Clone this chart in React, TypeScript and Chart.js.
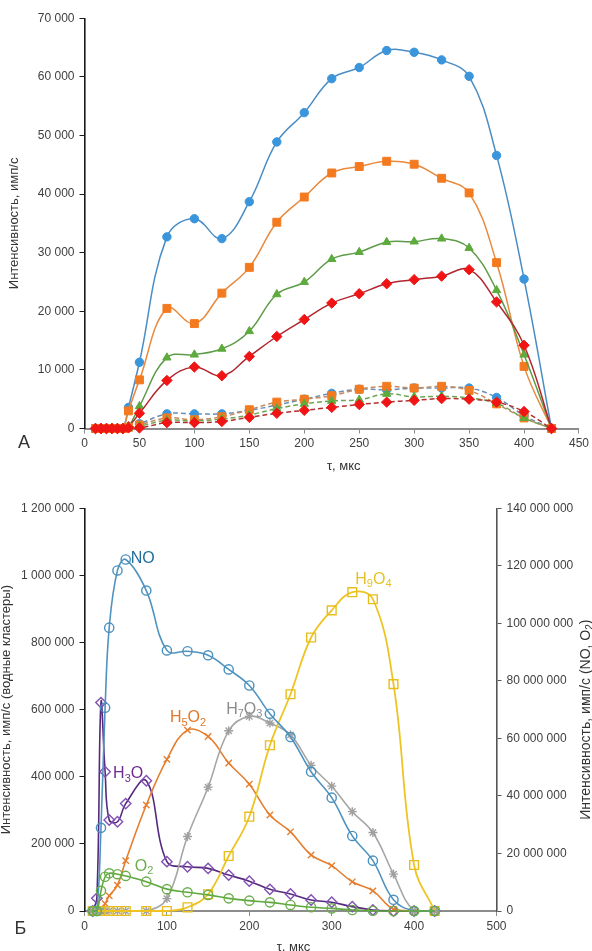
import React, { useEffect, useRef } from "react";
import { Chart, registerables } from "chart.js";

Chart.register(...registerables);

const FONT = '"Liberation Sans", Arial, Helvetica, sans-serif';
const TICK_COLOR = "#404040";
const TITLE_COLOR = "#333333";

// ---------------- Panel А ----------------
const tauA = [10, 15, 20, 25, 30, 35, 40, 50, 75, 100, 125, 150, 175, 200, 225, 250, 275, 300, 325, 350, 375, 400, 425];
const solidBlue = [0, 0, 0, 0, 0, 0, 3600, 11300, 32700, 35800, 32400, 38700, 48900, 53900, 59700, 61600, 64500, 64200, 62900, 60100, 46600, 25500, 0];
const solidOrange = [0, 0, 0, 0, 0, 0, 3000, 8300, 20500, 17900, 23100, 27500, 35200, 39500, 43600, 44700, 45600, 45100, 42700, 40200, 28300, 10600, 0];
const solidGreen = [0, 0, 0, 0, 0, 0, 300, 3800, 12100, 12600, 13600, 16600, 22900, 25000, 28900, 30100, 31800, 31900, 32400, 30800, 23600, 12600, 0];
const solidRed = [0, 0, 0, 0, 0, 0, 300, 2600, 8200, 10500, 9000, 12300, 15700, 18600, 21400, 23000, 24700, 25400, 26000, 27100, 21600, 14200, 0];
const dashedBlue = [0, 0, 0, 0, 0, 0, 200, 800, 2500, 2500, 2500, 3100, 4000, 5000, 6000, 6700, 6600, 6900, 6900, 6900, 5300, 2200, 0];
const dashedOrange = [0, 0, 0, 0, 0, 0, 200, 600, 1800, 1500, 2000, 3200, 4500, 5000, 5600, 6700, 7200, 6900, 7200, 6500, 4200, 1800, 0];
const dashedGreen = [0, 0, 0, 0, 0, 0, 100, 400, 1400, 1300, 1600, 2300, 3400, 4200, 4700, 4900, 5900, 5400, 5500, 5200, 4300, 1800, 0];
const dashedRed = [0, 0, 0, 0, 0, 0, 100, 100, 1000, 1000, 1200, 1900, 2600, 3100, 3600, 4100, 4500, 4800, 5100, 5000, 4500, 2900, 0];
const xAxisA = { min: 0, max: 450, step: 50 };
const yAxisA = { min: 0, max: 70000, step: 10000 };

// ---------------- Panel Б ----------------
const tauB = [10, 15, 20, 25, 30, 40, 50, 75, 100, 125, 150, 175, 200, 225, 250, 275, 300, 325, 350, 375, 400, 425];
const seriesNO = [0, 0, 28900000, 70700000, 98500000, 118400000, 122200000, 111400000, 90600000, 90300000, 88900000, 84000000, 78400000, 68600000, 60500000, 48400000, 39400000, 26100000, 17500000, 3900000, 0, 0];
const seriesO2 = [0, 0, 7000000, 11900000, 13100000, 12800000, 12200000, 10200000, 7600000, 6500000, 5600000, 4400000, 3600000, 3000000, 2100000, 1300000, 900000, 350000, 100000, 0, 0, 0];
const seriesH3O = [0, 38000, 621000, 415000, 271000, 266000, 320000, 388000, 147000, 132000, 127000, 107000, 89000, 64500, 50600, 32700, 26000, 13000, 3000, 0, 0, 0];
const seriesH5O2 = [0, 0, 0, 22000, 45000, 77000, 150000, 316000, 452000, 539000, 520000, 441000, 378000, 286000, 236000, 167000, 135000, 87000, 60000, 5000, 0, 0];
const seriesH7O3 = [0, 0, 0, 0, 0, 0, 0, 0, 37000, 222000, 369000, 537000, 580000, 560000, 525000, 434000, 372000, 296000, 234000, 110000, 0, 0];
const seriesH9O4 = [0, 0, 0, 0, 0, 0, 0, 0, 0, 11000, 50000, 164000, 281000, 494000, 646000, 815000, 896000, 950000, 929000, 676000, 137000, 0];
const xAxisB = { min: 0, max: 500, step: 100 };
const yAxisB = { min: 0, max: 1200000, step: 200000 };
const y1AxisB = { min: 0, max: 140000000, step: 20000000 };

const fmt = (v: number | string) =>
  String(Math.round(Number(v))).replace(/\B(?=(\d{3})+(?!\d))/g, " ");

type Part = [string, boolean];

function drawRich(
  ctx: CanvasRenderingContext2D,
  parts: Part[],
  x: number,
  y: number,
  size: number,
  color: string,
  align: "left" | "center"
) {
  const big = `${size}px ${FONT}`;
  const small = `${Math.round(size * 0.68)}px ${FONT}`;
  let w = 0;
  for (const [t, s] of parts) {
    ctx.font = s ? small : big;
    w += ctx.measureText(t).width;
  }
  let cx = align === "center" ? x - w / 2 : x;
  const base = y + size * 0.36;
  ctx.fillStyle = color;
  ctx.textAlign = "left";
  ctx.textBaseline = "alphabetic";
  for (const [t, s] of parts) {
    ctx.font = s ? small : big;
    ctx.fillText(t, cx, s ? base + size * 0.2 : base);
    cx += ctx.measureText(t).width;
  }
}

const pts = (xs: number[], ys: number[]) => xs.map((x, i) => ({ x, y: ys[i] }));

function axisX(r: { min: number; max: number; step: number }, height: number) {
  return {
    type: "linear" as const,
    min: r.min,
    max: r.max,
    afterFit: (s: any) => {
      s.height = height;
    },
    ticks: {
      stepSize: r.step,
      autoSkip: false,
      maxRotation: 0,
      padding: 3,
      color: TICK_COLOR,
      font: { family: FONT, size: 12 },
    },
    grid: { drawOnChartArea: false, drawTicks: true, tickLength: 5, color: "#8c8c8c", lineWidth: 1 },
    border: { display: true, color: "#8c8c8c", width: 2 },
  };
}

function axisY(
  r: { min: number; max: number; step: number },
  position: "left" | "right",
  width: number,
  color: string,
  title?: { text: string; pad: number }
) {
  return {
    type: "linear" as const,
    position,
    min: r.min,
    max: r.max,
    afterFit: (s: any) => {
      s.width = width;
    },
    ticks: {
      stepSize: r.step,
      padding: 5,
      color: TICK_COLOR,
      font: { family: FONT, size: 12 },
      callback: (v: any) => fmt(v),
    },
    grid: { drawOnChartArea: false, drawTicks: true, tickLength: 5, color, lineWidth: 1 },
    border: { display: true, color, width: 1.6 },
    title: title
      ? {
          display: true,
          text: title.text,
          color: TITLE_COLOR,
          font: { family: FONT, size: 13 },
          padding: { top: title.pad, bottom: 0 },
        }
      : { display: false },
  };
}

type TextItem = {
  parts: Part[];
  dx: number;
  dy: number;
  ref: "center-bottom" | "left-bottom" | "right-center";
  size: number;
  rotate?: boolean;
};

const textsPlugin = (items: TextItem[]) => ({
  id: "texts",
  afterDraw(chart: any) {
    const ctx: CanvasRenderingContext2D = chart.ctx;
    const a = chart.chartArea;
    ctx.save();
    for (const it of items) {
      let x = 0;
      let y = 0;
      if (it.ref === "center-bottom") {
        x = (a.left + a.right) / 2 + it.dx;
        y = a.bottom + it.dy;
      } else if (it.ref === "left-bottom") {
        x = a.left + it.dx;
        y = a.bottom + it.dy;
      } else {
        x = chart.width + it.dx;
        y = (a.top + a.bottom) / 2 + it.dy;
      }
      if (it.rotate) {
        ctx.save();
        ctx.translate(x, y);
        ctx.rotate(-Math.PI / 2);
        drawRich(ctx, it.parts, 0, 0, it.size, TITLE_COLOR, "center");
        ctx.restore();
      } else {
        drawRich(ctx, it.parts, x, y, it.size, TITLE_COLOR, "center");
      }
    }
    ctx.restore();
  },
});

type SeriesLabel = {
  dataset: number;
  index: number;
  parts: Part[];
  dx: number;
  dy: number;
  align: "left" | "center";
  color: string;
};

const seriesLabelPlugin = (labels: SeriesLabel[]) => ({
  id: "seriesLabels",
  afterDatasetsDraw(chart: any) {
    const ctx: CanvasRenderingContext2D = chart.ctx;
    ctx.save();
    for (const l of labels) {
      const el = chart.getDatasetMeta(l.dataset).data[l.index];
      if (!el) continue;
      drawRich(ctx, l.parts, el.x + l.dx, el.y + l.dy, 16, l.color, l.align);
    }
    ctx.restore();
  },
});

// ---------- configs ----------
function configA(): any {
  const solid = [
    { data: solidBlue, line: "#4a8dc4", mark: "#3a95db", style: "circle", r: 4.2 },
    { data: solidOrange, line: "#e88a3d", mark: "#f47a1f", style: "rect", r: 5.6 },
    { data: solidGreen, line: "#5e9b48", mark: "#5daa3d", style: "triangle", r: 4.8 },
    { data: solidRed, line: "#b3252d", mark: "#f01414", style: "rectRot", r: 5.2 },
  ];
  const dashed = [
    { data: dashedBlue, line: "#6a8fb4", mark: "#3a95db", style: "circle", r: 4.2 },
    { data: dashedOrange, line: "#c78a5c", mark: "#f47a1f", style: "rect", r: 5.6 },
    { data: dashedGreen, line: "#6da552", mark: "#5daa3d", style: "triangle", r: 4.8 },
    { data: dashedRed, line: "#b03030", mark: "#f01414", style: "rectRot", r: 5.2 },
  ];
  const all = [...solid.map((s) => ({ ...s, dash: false })), ...dashed.map((s) => ({ ...s, dash: true }))];
  const datasets = all.map((s, i) => ({
    data: pts(tauA, s.data),
    borderColor: s.line,
    borderWidth: 1.5,
    borderDash: s.dash ? [5, 3] : [],
    pointStyle: s.style,
    pointRadius: s.r,
    pointBackgroundColor: s.mark,
    pointBorderColor: s.mark,
    pointBorderWidth: 1,
    tension: 0.4,
    fill: false,
    clip: false,
    order: -i,
  }));
  return {
    type: "line",
    data: { datasets },
    options: {
      responsive: false,
      animation: false,
      devicePixelRatio: 1,
      layout: { padding: { left: 0, right: 12, top: 18.3, bottom: 0 } },
      plugins: { legend: { display: false }, tooltip: { enabled: false } },
      scales: {
        x: axisX(xAxisA, 51.5),
        y: axisY(yAxisA, "left", 84.5, "#1a1a1a", { text: "Интенсивность, имп/с", pad: 7 }),
      },
    },
    plugins: [
      textsPlugin([
        { parts: [["τ, мкс", false]], dx: 12, dy: 36.5, ref: "center-bottom", size: 13 },
        { parts: [["А", false]], dx: -60.5, dy: 13.5, ref: "left-bottom", size: 18 },
      ]),
    ],
  };
}

function configB(): any {
  const series = [
    { data: seriesH3O, axis: "y", line: "#55297e", mark: "#8250b4", style: "rectRot", r: 5.2, w: 1.6 },
    { data: seriesH5O2, axis: "y", line: "#e57e2e", mark: "#e57e2e", style: "crossRot", r: 4.5, w: 1.6 },
    { data: seriesH7O3, axis: "y", line: "#a6a6a6", mark: "#a0a0a0", style: "star", r: 4.5, w: 1.6 },
    { data: seriesH9O4, axis: "y", line: "#eec425", mark: "#e8bd1c", style: "rect", r: 6.2, w: 1.8 },
    { data: seriesNO, axis: "y1", line: "#4f93c0", mark: "#4a90bd", style: "circle", r: 4.6, w: 1.6 },
    { data: seriesO2, axis: "y1", line: "#5ea83c", mark: "#6aae4a", style: "circle", r: 4.6, w: 1.6 },
  ];
  const datasets = series.map((s, i) => ({
    data: pts(tauB, s.data),
    yAxisID: s.axis,
    borderColor: s.line,
    borderWidth: s.w,
    pointStyle: s.style,
    pointRadius: s.r,
    pointBackgroundColor: "rgba(255,255,255,0)",
    pointBorderColor: s.mark,
    pointBorderWidth: 1.4,
    tension: 0.4,
    fill: false,
    clip: false,
    order: -i,
  }));
  const labels: SeriesLabel[] = [
    { dataset: 4, index: 6, parts: [["NO", false]], dx: 5, dy: -2, align: "left", color: "#1f6e9e" },
    { dataset: 0, index: 3, parts: [["H", false], ["3", true], ["O", false]], dx: 8, dy: 1, align: "left", color: "#6a2c91" },
    { dataset: 1, index: 9, parts: [["H", false], ["5", true], ["O", false], ["2", true]], dx: 0.5, dy: -13.5, align: "center", color: "#e0782e" },
    { dataset: 2, index: 12, parts: [["H", false], ["7", true], ["O", false], ["3", true]], dx: -5, dy: -8.5, align: "center", color: "#8c8c8c" },
    { dataset: 3, index: 17, parts: [["H", false], ["9", true], ["O", false], ["4", true]], dx: 3, dy: -14, align: "left", color: "#e6c22a" },
    { dataset: 5, index: 6, parts: [["O", false], ["2", true]], dx: 9, dy: -10.5, align: "left", color: "#6aae4c" },
  ];
  return {
    type: "line",
    data: { datasets },
    options: {
      responsive: false,
      animation: false,
      devicePixelRatio: 1,
      layout: { padding: { left: 0, right: 0, top: 28.3, bottom: 0 } },
      plugins: { legend: { display: false }, tooltip: { enabled: false } },
      scales: {
        x: axisX(xAxisB, 40),
        y: axisY(yAxisB, "left", 84.5, "#1a1a1a", { text: "Интенсивность, имп/с (водные кластеры)", pad: -1 }),
        y1: axisY(y1AxisB, "right", 95.5, "#555555"),
      },
    },
    plugins: [
      seriesLabelPlugin(labels),
      textsPlugin([
        { parts: [["τ, мкс", false]], dx: 3, dy: 35, ref: "center-bottom", size: 13 },
        { parts: [["Б", false]], dx: -64, dy: 16.5, ref: "left-bottom", size: 18 },
        {
          parts: [["Интенсивность, имп/с (NO, O", false], ["2", true], [")", false]],
          dx: -7,
          dy: 10,
          ref: "right-center",
          size: 14,
          rotate: true,
        },
      ]),
    ],
  };
}

function ChartCanvas(props: { make: () => any; width: number; height: number; top: number }) {
  const ref = useRef<HTMLCanvasElement | null>(null);
  useEffect(() => {
    if (!ref.current) return;
    const chart = new Chart(ref.current, props.make());
    return () => chart.destroy();
  }, []);
  return (
    <canvas
      ref={ref}
      width={props.width}
      height={props.height}
      style={{ position: "absolute", left: 0, top: props.top, width: props.width, height: props.height, display: "block" }}
    />
  );
}

export default function App() {
  return (
    <div style={{ position: "absolute", left: 0, top: 0, width: 592, height: 951, background: "#ffffff", overflow: "hidden" }}>
      <ChartCanvas make={configA} width={592} height={480} top={0} />
      <ChartCanvas make={configB} width={592} height={471} top={480} />
    </div>
  );
}
